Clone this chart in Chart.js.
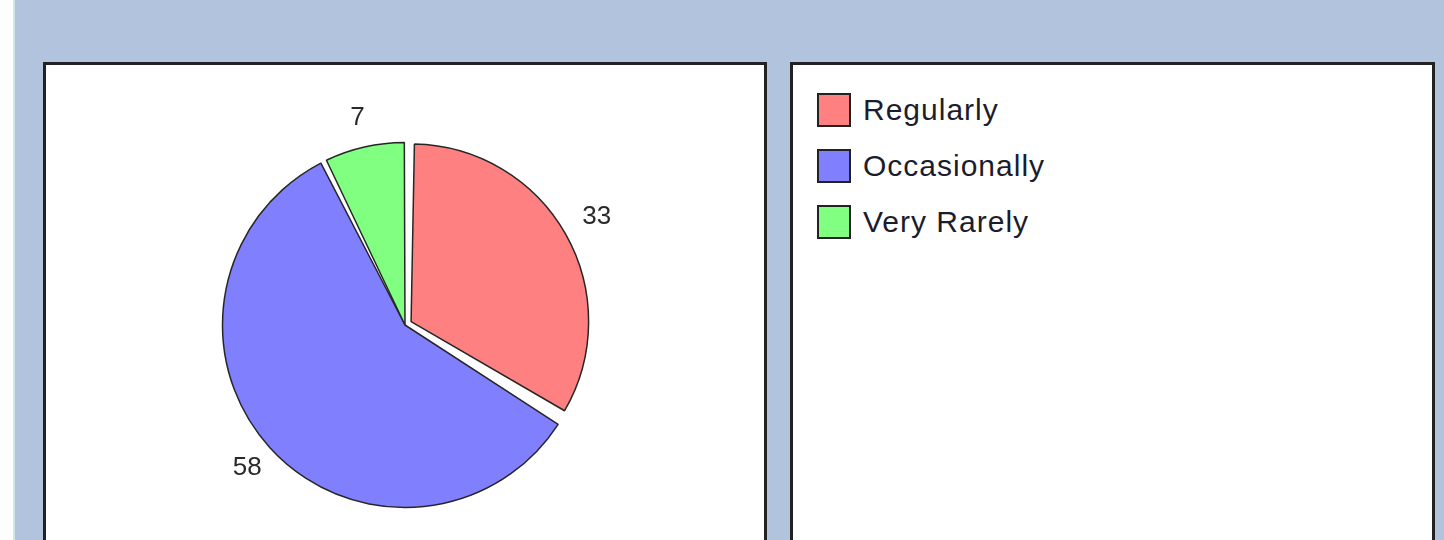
<!DOCTYPE html>
<html>
<head>
<meta charset="utf-8">
<script src="https://cdn.jsdelivr.net/npm/chart.js@4.4.1/dist/chart.umd.min.js"></script>
<style>
  html, body { margin: 0; padding: 0; }
  body {
    width: 1444px; height: 540px; overflow: hidden; position: relative;
    background: #b2c4dd;
    font-family: "Liberation Sans", Arial, sans-serif;
  }
  #strip { position: absolute; left: 0; top: 0; width: 13px; height: 540px; background: #fdfdfd; border-right: 2px solid #cfe6ec; }
  .panel { position: absolute; top: 62px; background: #fff; border: 3px solid #222; box-sizing: border-box; }
  #pieBox { left: 43px; width: 724px; height: 526px; }
  #legendBox { left: 790px; width: 645px; height: 526px; padding: 17px 0 0 24px; }
  #pieBox canvas { display: block; }
  .row { display: flex; align-items: center; height: 56px; }
  .swatch { width: 34px; height: 34px; box-sizing: border-box; border: 2px solid #222; margin-right: 12px; }
  .txt { font-size: 30px; letter-spacing: 1px; color: #1c1c2c; }
</style>
</head>
<body>
<div id="strip"></div>
<div class="panel" id="pieBox"><canvas id="pie" width="718" height="520"></canvas></div>
<div class="panel" id="legendBox"></div>

<script>
const categories = ["Regularly", "Occasionally", "Very Rarely"];
const values = [33, 58, 7];
const colors = ["#ff8080", "#8080ff", "#80ff80"];
const offsets = [28, 0, 0];
const explodeShrink = 6;

// la part détachée est un peu plus petite
const shrinkExploded = {
  id: "shrinkExploded",
  beforeDatasetsDraw(chart) {
    const meta = chart.getDatasetMeta(0);
    const r = meta.controller.outerRadius;
    meta.data.forEach((arc, i) => {
      arc.outerRadius = offsets[i] ? r - explodeShrink : r;
    });
  }
};

// valeurs écrites à l'extérieur des parts
const outsideLabels = {
  id: "outsideLabels",
  afterDatasetsDraw(chart) {
    const ctx = chart.ctx;
    const meta = chart.getDatasetMeta(0);
    const r = meta.controller.outerRadius;
    ctx.save();
    ctx.font = "26px 'Liberation Sans', Arial, sans-serif";
    ctx.fillStyle = "#2a2a2a";
    ctx.textAlign = "center";
    ctx.textBaseline = "middle";
    meta.data.forEach((arc, i) => {
      const p = arc.getProps(["x", "y", "startAngle", "endAngle"], true);
      const mid = (p.startAngle + p.endAngle) / 2;
      const d = r + 32 + offsets[i] / 4;
      ctx.fillText(String(values[i]), p.x + Math.cos(mid) * d, p.y + Math.sin(mid) * d);
    });
    ctx.restore();
  }
};

const chart = new Chart(document.getElementById("pie"), {
  type: "pie",
  data: {
    labels: categories,
    datasets: [{
      data: values,
      backgroundColor: colors,
      borderColor: "#262626",
      borderWidth: 1.5,
      offset: offsets,
      spacing: 3,
      radius: 181
    }]
  },
  options: {
    responsive: false,
    animation: false,
    events: [],
    plugins: {
      legend: { display: false },
      tooltip: { enabled: false }
    }
  },
  plugins: [shrinkExploded, outsideLabels]
});

// légende dans le panneau de droite
const legendBox = document.getElementById("legendBox");
categories.forEach((name, i) => {
  const row = document.createElement("div");
  row.className = "row";
  const sw = document.createElement("div");
  sw.className = "swatch";
  sw.style.background = colors[i];
  const t = document.createElement("span");
  t.className = "txt";
  t.textContent = name;
  row.appendChild(sw);
  row.appendChild(t);
  legendBox.appendChild(row);
});
</script>
</body>
</html>
